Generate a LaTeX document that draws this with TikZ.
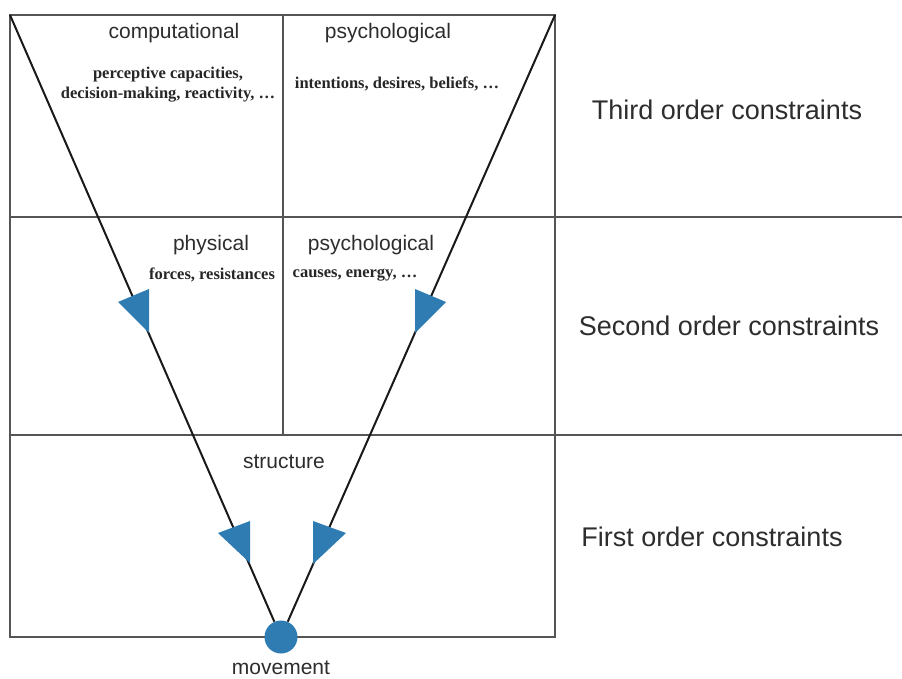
\documentclass[tikz,border=0pt]{standalone}
\usepackage{fontspec}
\setmainfont{Liberation Serif}
\newfontfamily\labelfont{Liberation Sans}
\definecolor{markblue}{RGB}{46,124,178}
\definecolor{gridgray}{RGB}{85,85,85}
\definecolor{textgray}{RGB}{45,45,45}
\tikzset{
  gridline/.style={draw=gridgray, line width=1.3pt},
  vline/.style={draw=black!90, line width=2pt},
  marker/.style={fill=markblue, draw=none},
  head/.style={font=\labelfont\fontsize{21}{25}\selectfont, text=textgray, inner sep=0pt},
  detail/.style={font=\fontsize{16.5}{20}\selectfont\bfseries, text=black!85, inner sep=0pt, align=center},
  order/.style={font=\labelfont\fontsize{27}{32}\selectfont, text=textgray, inner sep=0pt},
}
\begin{document}
\begin{tikzpicture}[x=1pt, y=-1pt]
  \useasboundingbox (0,0) rectangle (902,679);

  % frame and grid
  \coordinate (tl) at (10,15);
  \coordinate (tr) at (555,15);
  \draw[gridline] (tl) rectangle (555,637);
  \draw[gridline] (10,217) -- (902,217);
  \draw[gridline] (10,435) -- (902,435);
  \draw[gridline] (283,15) -- (283,435);

  % movement node and the two converging lines
  \node[circle, fill=markblue, minimum size=33pt, inner sep=0pt] (move) at (281,637) {};
  \draw[vline] (tl) -- (move);
  \draw[vline] (tr) -- (move);

  % direction markers on the lines
  \fill[marker] (118,302) -- (149,289) -- (149,333) -- cycle;
  \fill[marker] (446,302) -- (415,289) -- (415,333) -- cycle;
  \fill[marker] (218,533) -- (250,521) -- (250,563) -- cycle;
  \fill[marker] (346,533) -- (313,521) -- (313,564) -- cycle;

  % region labels
  \node[head] (comp) at (174,33) {computational};
  \node[head] (psyA) at (388,33) {psychological};
  \node[detail] (compd) at (168,85) {perceptive capacities,\\[0pt]decision-making, reactivity, …};
  \node[detail] (psyAd) at (397,84) {intentions, desires, beliefs, …};

  \node[head] (phys) at (211,245) {physical};
  \node[head] (psyB) at (371,245) {psychological};
  \node[detail] (physd) at (212,275) {forces, resistances};
  \node[detail] (psyBd) at (355,275) {causes, energy, …};

  \node[head] (struct) at (284,462) {structure};
  \node[head] (movelbl) at (281,668) {movement};

  % order labels
  \node[order] (third) at (727,110) {Third order constraints};
  \node[order] (second) at (729,326) {Second order constraints};
  \node[order] (first) at (712,537) {First order constraints};
\end{tikzpicture}
\end{document}
